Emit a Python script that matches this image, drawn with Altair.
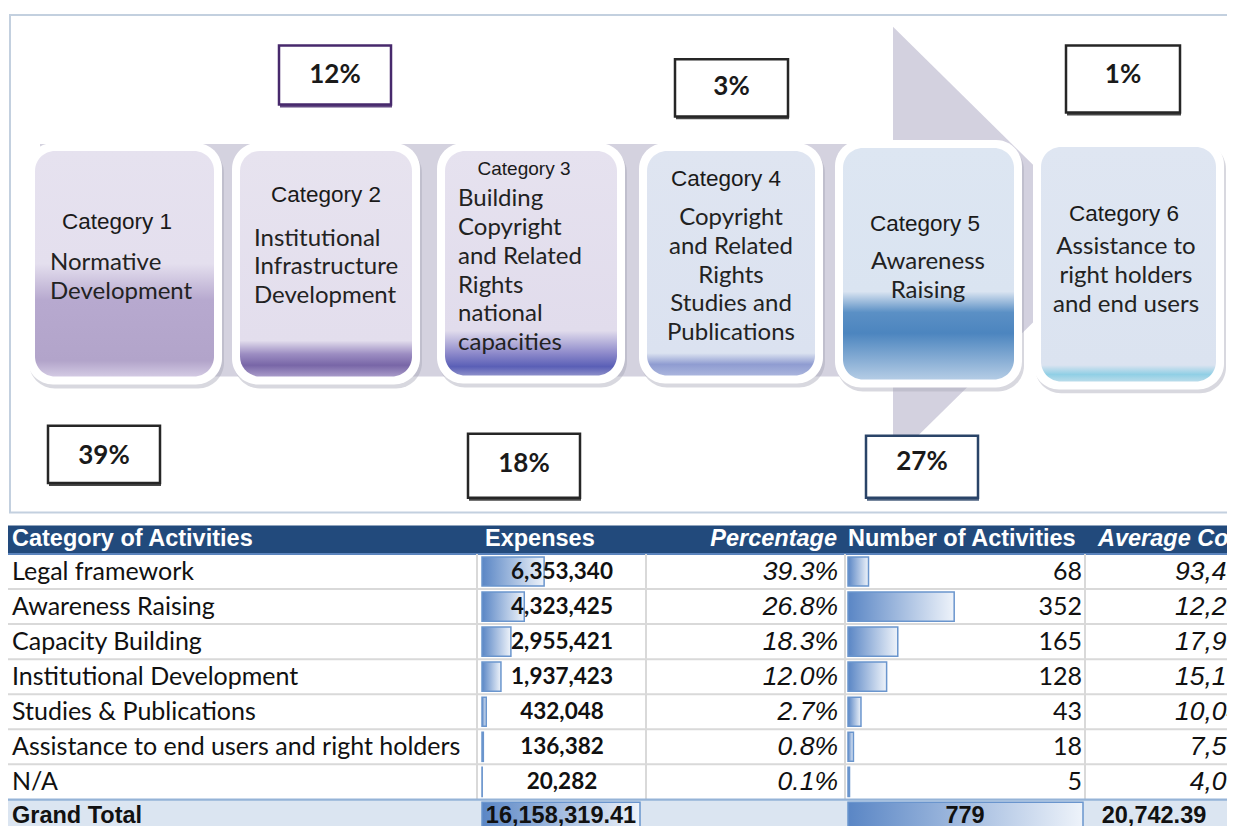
import altair as alt
import pandas as pd

# ---------------- data ----------------
cat_titles = ["Category 1", "Category 2", "Category 3", "Category 4", "Category 5", "Category 6"]
cat_desc = [
    "Normative\nDevelopment",
    "Institutional\nInfrastructure\nDevelopment",
    "Building\nCopyright\nand Related\nRights\nnational\ncapacities",
    "Copyright\nand Related\nRights\nStudies and\nPublications",
    "Awareness\nRaising",
    "Assistance to\nright holders\nand end users",
]
cat_share = ["39%", "12%", "18%", "3%", "27%", "1%"]

header_labels = ["Category of Activities", "Expenses", "Percentage", "Number of Activities", "Average Cost"]
activities = ["Legal framework", "Awareness Raising", "Capacity Building", "Institutional Development",
              "Studies & Publications", "Assistance to end users and right holders", "N/A"]
expenses = [6353340, 4323425, 2955421, 1937423, 432048, 136382, 20282]
percentages = [39.3, 26.8, 18.3, 12.0, 2.7, 0.8, 0.1]
num_activities = [68, 352, 165, 128, 43, 18, 5]
avg_cost = [93431, 12282, 17912, 15136, 10048, 7577, 4056]
total_label = "Grand Total"
total_expenses = 16158319.41
total_activities = 779
total_avg_cost = 20742.39

# ---------------- layout (reference pixel space) ----------------
W, H = 1219, 818
xs = alt.Scale(domain=[8, 1227], nice=False, zero=False)
ys = alt.Scale(domain=[8, 838], nice=False, zero=False, reverse=True)

ARIAL = "Liberation Sans, Arial, sans-serif"
CALIBRI = "Lato, Carlito, Calibri, sans-serif"


def rect_layer(df, **mark):
    return alt.Chart(df).mark_rect(**mark).encode(
        x=alt.X("x0:Q", scale=xs, axis=None), x2="x1:Q",
        y=alt.Y("y0:Q", scale=ys, axis=None), y2="y1:Q")


def text_layer(df, **mark):
    return alt.Chart(df).mark_text(**mark).encode(
        x=alt.X("x:Q", scale=xs, axis=None),
        y=alt.Y("y:Q", scale=ys, axis=None),
        text="t:N")


def vgrad(stops):
    return alt.LinearGradient(gradient="linear", x1=0, y1=0, x2=0, y2=1,
                              stops=[alt.GradientStop(offset=o, color=c) for o, c in stops])


hgrad = alt.LinearGradient(gradient="linear", x1=0, y1=0, x2=1, y2=0,
                           stops=[alt.GradientStop(offset=0, color="#5a86c5"),
                                  alt.GradientStop(offset=1, color="#eef3fa")])

layers = []

# outer frame
layers.append(rect_layer(pd.DataFrame({"x0": [10], "x1": [1250], "y0": [15], "y1": [520]}),
                         fill="white", stroke="#c3d0df", strokeWidth=2))

# arrow: band + head
layers.append(rect_layer(pd.DataFrame({"x0": [40], "x1": [893], "y0": [146], "y1": [382]}),
                         fill="#d4d2df"))
arrow_head = pd.DataFrame({"x": [893, 1113], "y": [27, 247], "y2": [467, 247]})
layers.append(alt.Chart(arrow_head).mark_area(color="#d3d1df", orient="vertical").encode(
    x=alt.X("x:Q", scale=xs, axis=None),
    y=alt.Y("y:Q", scale=ys, axis=None), y2="y2:Q"))

# category boxes
box_left = [27, 232, 437, 639, 835, 1033]
box_right = [222, 420, 625, 823, 1022, 1224]
box_top = [145, 145, 145, 145, 142, 141]
box_bottom = [390, 390, 389, 389, 393, 395]
boxes = pd.DataFrame({"x0": box_left, "x1": box_right, "y0": box_top, "y1": box_bottom})
shadow = boxes.copy()
shadow[["x0", "x1"]] += 2
shadow[["y0", "y1"]] += 4
layers.append(rect_layer(shadow, fill="#a9a9b8", opacity=0.45, cornerRadius=26))
layers.append(rect_layer(boxes, fill="white", cornerRadius=26))

box_grads = [
    [(0, "#e6e2ef"), (0.50, "#e4dfee"), (0.66, "#b7a9cf"), (0.93, "#b2a4ca"), (1, "#d3cae3")],
    [(0, "#e7e3ef"), (0.84, "#e3deed"), (0.90, "#9c8dc2"), (0.95, "#7866a7"), (1, "#a99bc9")],
    [(0, "#e6e2ef"), (0.80, "#e1dcec"), (0.90, "#8e8acb"), (0.96, "#5a5fb6"), (1, "#8d8fca")],
    [(0, "#dfe5f1"), (0.90, "#dbe2f0"), (0.95, "#8f9cd1"), (1, "#aab5dd")],
    [(0, "#dde6f2"), (0.62, "#dae4f1"), (0.71, "#5b90c5"), (0.80, "#4c85bf"), (1, "#b4cce5")],
    [(0, "#dfe6f2"), (0.93, "#dbe3f0"), (0.97, "#90cfe5"), (1, "#b9dcea")],
]
for i, g in enumerate(box_grads):
    inner = pd.DataFrame({"x0": [box_left[i] + 8], "x1": [box_right[i] - 8],
                          "y0": [box_top[i] + 8], "y1": [box_bottom[i] - 8]})
    layers.append(rect_layer(inner, fill=vgrad(g), cornerRadius=20))

# category titles
title_x = [117, 326, 524, 726, 925, 1124]
title_y = [225, 198, 171, 182, 227, 217]
title_size = [22.5, 22.5, 19, 22.5, 22.5, 22.5]
for i in range(6):
    layers.append(text_layer(pd.DataFrame({"x": [title_x[i]], "y": [title_y[i]], "t": [cat_titles[i]]}),
                             font=ARIAL, fontSize=title_size[i], color="#1a1a1a",
                             align="center", baseline="middle"))

# category descriptions (y = centre of first line)
desc_x = [50, 254, 458, 731, 928, 1126]
desc_y = [267, 242, 202, 221, 266, 251]
desc_align = ["left", "left", "left", "center", "center", "center"]
for i in range(6):
    layers.append(text_layer(pd.DataFrame({"x": [desc_x[i]], "y": [desc_y[i]], "t": [cat_desc[i]]}),
                             font=CALIBRI, fontSize=24, color="#222222", align=desc_align[i],
                             baseline="middle", lineBreak="\n", lineHeight=28.8))

# percentage boxes
pb_x0 = [48, 279, 468, 675, 866, 1066]
pb_x1 = [160, 391, 580, 788, 978, 1180]
pb_y0 = [432, 46, 440, 60, 442, 46]
pb_y1 = [490, 106, 505, 118, 505, 114]
pb_col = ["#262626", "#47296c", "#262626", "#262626", "#2a4468", "#262626"]
pb_ty = [463, 76, 471, 88, 469, 76]
pboxes = pd.DataFrame({"x0": pb_x0, "x1": pb_x1, "y0": pb_y0, "y1": pb_y1, "c": pb_col})
pshadow = pboxes.copy()
pshadow[["x0", "x1"]] += 1
pshadow[["y0", "y1"]] += 3
layers.append(alt.Chart(pshadow).mark_rect(opacity=0.85).encode(
    x=alt.X("x0:Q", scale=xs, axis=None), x2="x1:Q",
    y=alt.Y("y0:Q", scale=ys, axis=None), y2="y1:Q",
    color=alt.Color("c:N", scale=None)))
layers.append(alt.Chart(pboxes).mark_rect(fill="white", strokeWidth=2.5).encode(
    x=alt.X("x0:Q", scale=xs, axis=None), x2="x1:Q",
    y=alt.Y("y0:Q", scale=ys, axis=None), y2="y1:Q",
    stroke=alt.Stroke("c:N", scale=None)))
layers.append(text_layer(pd.DataFrame({"x": [(a + b) / 2 for a, b in zip(pb_x0, pb_x1)],
                                       "y": pb_ty, "t": cat_share}),
                         font=CALIBRI, fontSize=26, fontWeight="bold", color="#1a1a1a",
                         align="center", baseline="middle"))

# ---------------- table ----------------
hdr_top, hdr_bot = 533, 561
row_top0, row_h = 562, 35.57
n = len(activities)
row_tops = [row_top0 + row_h * i for i in range(n)]
row_mid = [t + row_h / 2 for t in row_tops]
tot_top = row_top0 + row_h * n
tot_mid = tot_top + 17

# header
layers.append(rect_layer(pd.DataFrame({"x0": [7], "x1": [1250], "y0": [hdr_top], "y1": [hdr_bot]}),
                         fill="#224a7c"))
layers.append(rect_layer(pd.DataFrame({"x0": [7], "x1": [1250], "y0": [hdr_bot], "y1": [hdr_bot + 2]}),
                         fill="#5b84bd"))
hdr_x = [12, 485, 837, 848, 1098]
hdr_align = ["left", "left", "right", "left", "left"]
hdr_style = ["normal", "normal", "italic", "normal", "italic"]
for i in range(5):
    layers.append(text_layer(pd.DataFrame({"x": [hdr_x[i]], "y": [547], "t": [header_labels[i]]}),
                             font=ARIAL, fontSize=23.5, fontWeight="bold", fontStyle=hdr_style[i],
                             color="white", align=hdr_align[i], baseline="middle"))

# grand total background
layers.append(rect_layer(pd.DataFrame({"x0": [7], "x1": [1250], "y0": [tot_top], "y1": [845]}),
                         fill="#dbe5f1"))

# grid lines
hl = pd.DataFrame({"x0": [7] * (n - 1), "x1": [1250] * (n - 1),
                   "y0": [t - 1 for t in row_tops[1:]], "y1": [t + 1 for t in row_tops[1:]]})
layers.append(rect_layer(hl, fill="#d9d9d9"))
col_lines = [7, 477, 646, 845, 1085]
vl = pd.DataFrame({"x0": [c - 1 for c in col_lines], "x1": [c + 1 for c in col_lines],
                   "y0": [row_top0] * 5, "y1": [tot_top] * 5})
layers.append(rect_layer(vl, fill="#d9d9d9"))
layers.append(rect_layer(pd.DataFrame({"x0": [7], "x1": [1250], "y0": [tot_top - 1], "y1": [tot_top + 1.5]}),
                         fill="#95b3d7"))

# data bars
bar_y0 = [t + 3 for t in row_tops] + [tot_top + 3]
bar_y1 = [t + row_h - 3 for t in row_tops] + [845]
exp_df = pd.DataFrame({"zero": 0.0, "v": expenses + [total_expenses], "y0": bar_y0, "y1": bar_y1})
layers.append(alt.Chart(exp_df).mark_rect(fill=hgrad, stroke="#6a95cd", strokeWidth=1.5).encode(
    x=alt.X("zero:Q", scale=alt.Scale(domain=[0, total_expenses], range=[482 - 8, 640 - 8]), axis=None),
    x2="v:Q",
    y=alt.Y("y0:Q", scale=ys, axis=None), y2="y1:Q"))
num_df = pd.DataFrame({"zero": 0.0, "v": num_activities + [total_activities], "y0": bar_y0, "y1": bar_y1})
layers.append(alt.Chart(num_df).mark_rect(fill=hgrad, stroke="#6a95cd", strokeWidth=1.5).encode(
    x=alt.X("zero:Q", scale=alt.Scale(domain=[0, total_activities], range=[848 - 8, 1083 - 8]), axis=None),
    x2="v:Q",
    y=alt.Y("y0:Q", scale=ys, axis=None), y2="y1:Q"))

# row texts
layers.append(text_layer(pd.DataFrame({"x": 12, "y": row_mid, "t": activities}),
                         font=CALIBRI, fontSize=25, color="#111111", align="left", baseline="middle"))
layers.append(text_layer(pd.DataFrame({"x": 562, "y": row_mid, "t": [f"{v:,}" for v in expenses]}),
                         font=CALIBRI, fontSize=22.5, fontWeight="bold", color="#111111",
                         align="center", baseline="middle"))
layers.append(text_layer(pd.DataFrame({"x": 838, "y": row_mid, "t": [f"{p:.1f}%" for p in percentages]}),
                         font=ARIAL, fontSize=26.5, fontStyle="italic", color="#111111",
                         align="right", baseline="middle"))
layers.append(text_layer(pd.DataFrame({"x": 1082, "y": row_mid, "t": [str(v) for v in num_activities]}),
                         font=CALIBRI, fontSize=25, color="#111111", align="right", baseline="middle"))
layers.append(text_layer(pd.DataFrame({"x": 1256, "y": row_mid, "t": [f"{v:,}" for v in avg_cost]}),
                         font=ARIAL, fontSize=26.5, fontStyle="italic", color="#111111",
                         align="right", baseline="middle"))

# grand total texts
tot_x = [12, 561, 965, 1154]
tot_align = ["left", "center", "center", "center"]
tot_text = [total_label, f"{total_expenses:,.2f}", f"{total_activities}", f"{total_avg_cost:,.2f}"]
for i in range(4):
    layers.append(text_layer(pd.DataFrame({"x": [tot_x[i]], "y": [tot_mid], "t": [tot_text[i]]}),
                             font=ARIAL, fontSize=23.5, fontWeight="bold", color="#111111",
                             align=tot_align[i], baseline="middle"))

chart = alt.layer(*layers).resolve_scale(x="independent").properties(
    width=W, height=H, padding=0, autosize=alt.AutoSizeParams(type="none"),
    background="white"
).configure_view(stroke=None)

chart.save("out.html", embed_options={"renderer": "svg", "actions": False})
